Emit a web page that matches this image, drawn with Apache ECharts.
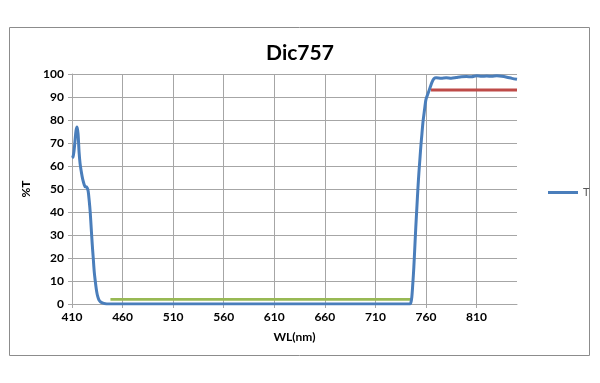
<!DOCTYPE html>
<html>
<head>
<meta charset="utf-8">
<script src="https://cdn.jsdelivr.net/npm/echarts@6/dist/echarts.min.js"></script>
<style>
html,body{margin:0;padding:0;background:#fff;}
#chart{width:600px;height:383px;}
</style>
</head>
<body>
<div id="chart"></div>
<script>
// Wavelength (nm) and transmission (%T) of the measured curve "T"
var wlT = [410,411,412,413,414,415,416,417,418,419,420,421,422,423,424,425,426,427,428,429,430,431,432,433,434,435,436,437,438,440,443,446,500,600,700,744,
  745,746,747,748,749,750,751,752,753,754,755,756,757,758,759,760,762,764,766,768,770,775,780,785,790,795,800,805,810,815,820,825,830,835,840,845,850];
var valT = [63.5,64,66.5,71,75.5,77,74,66,61,58,55.5,53.5,52,51,51,50.5,49,45,40,33,26,20,14,10,6.5,4,2.5,1.5,1,0.5,0.1,0,0,0,0,0,
  0.5,3,9,16,25,34,42,50,57,63,69,74,79,82.5,86,89,91.5,94,96.5,98,98.4,98.2,98.4,98.2,98.5,98.8,98.9,98.8,99.2,99.0,99.1,99.0,99.2,99.0,98.6,98.1,97.7];
// Spec line (red): T > 93% from 765 to 850 nm
var wlRed = [765, 850];
var valRed = [93, 93];
// Spec line (green): T < 2% from 448 to 745 nm
var wlGreen = [448, 745];
var valGreen = [2, 2];
// Axes
var titleText = 'Dic757';
var xName = 'WL(nm)';
var yName = '%T';

function pairs(xs, ys){ return xs.map(function(x,i){ return [x, ys[i]]; }); }

var chart = echarts.init(document.getElementById('chart'), null, {renderer:'canvas'});
var gridColor = '#a6a6a6';
var labelFont = {fontFamily:'Lato', fontWeight:'bold', fontSize:12, color:'#000'};
chart.setOption({
  animation:false,
  backgroundColor:'#fff',
  title:{text:titleText, left:'center', top:38,
    textStyle:{fontFamily:'Lato', fontWeight:'bold', fontSize:21, color:'#000'}},
  graphic:[{type:'rect', shape:{x:9.5,y:27.5,width:580,height:328},
    style:{fill:'none', stroke:'#8c8c8c', lineWidth:1}, z:-1}],
  legend:{data:['T'], left:543, top:182, itemWidth:30, itemHeight:3, icon:'rect',
    textStyle:{fontFamily:'Lato', fontSize:11, color:'#595959'}, itemGap:2},
  grid:{left:72, right:83, top:74, bottom:79},
  xAxis:{type:'value', min:410, max:850, interval:50,
    name:xName, nameLocation:'middle', nameGap:27,
    nameTextStyle:{fontFamily:'Lato', fontWeight:'bold', fontSize:12, color:'#000'},
    axisLine:{show:true, lineStyle:{color:gridColor, width:1}},
    axisTick:{show:true, length:4, lineStyle:{color:gridColor}},
    axisLabel:Object.assign({showMaxLabel:false, margin:7}, labelFont),
    splitLine:{show:true, showMaxLine:false, lineStyle:{color:gridColor, width:1}}},
  yAxis:{type:'value', min:0, max:100, interval:10,
    name:yName, nameLocation:'middle', nameGap:40, nameRotate:90,
    nameTextStyle:{fontFamily:'Lato', fontWeight:'bold', fontSize:12, color:'#000'},
    axisLine:{show:true, lineStyle:{color:gridColor, width:1}},
    axisTick:{show:true, length:4, lineStyle:{color:gridColor}},
    axisLabel:Object.assign({margin:8}, labelFont),
    splitLine:{show:true, lineStyle:{color:gridColor, width:1}}},
  series:[
    {name:'Green', type:'line', data:pairs(wlGreen, valGreen), symbol:'none',
      lineStyle:{color:'#98b954', width:2.75}, itemStyle:{color:'#98b954'}, z:3},
    {name:'T', type:'line', data:pairs(wlT, valT), symbol:'none', smooth:0.3,
      lineStyle:{color:'#4a7ebb', width:3}, itemStyle:{color:'#4a7ebb'}, z:4},
    {name:'Red', type:'line', data:pairs(wlRed, valRed), symbol:'none',
      lineStyle:{color:'#be4b48', width:3}, itemStyle:{color:'#be4b48'}, z:5}
  ]
});
</script>
</body>
</html>
